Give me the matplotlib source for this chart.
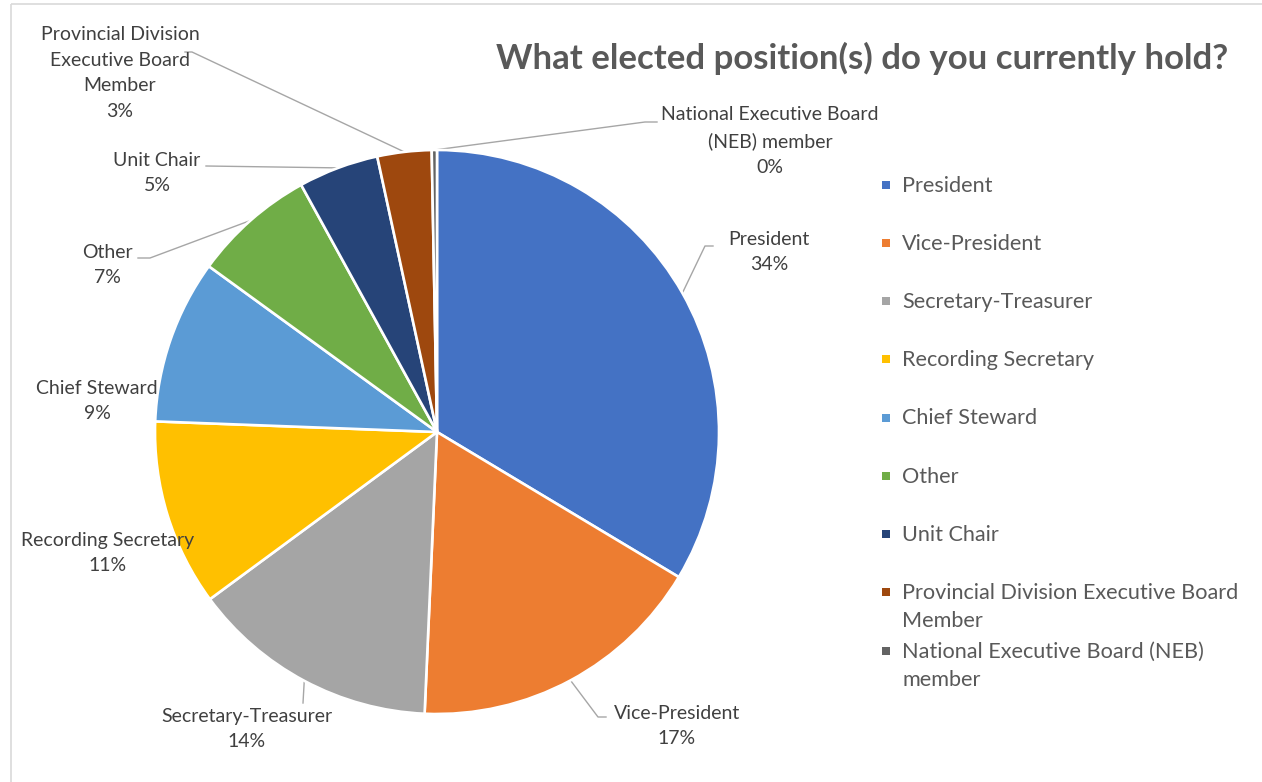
import matplotlib
matplotlib.use("Agg")
import matplotlib.pyplot as plt
from matplotlib.patches import Rectangle
import numpy as np

# --- data -------------------------------------------------------------
positions = [
    "President",
    "Vice-President",
    "Secretary-Treasurer",
    "Recording Secretary",
    "Chief Steward",
    "Other",
    "Unit Chair",
    "Provincial Division Executive Board Member",
    "National Executive Board (NEB) member",
]
shares = [33.6, 17.1, 14.2, 10.7, 9.4, 7.0, 4.6, 3.1, 0.3]

# wrapped text used for the slice labels and the legend
slice_label_text = [
    "President",
    "Vice-President",
    "Secretary-Treasurer",
    "Recording Secretary",
    "Chief Steward",
    "Other",
    "Unit Chair",
    "Provincial Division\nExecutive Board\nMember",
    "National Executive Board\n(NEB) member",
]
legend_text = [
    "President",
    "Vice-President",
    "Secretary-Treasurer",
    "Recording Secretary",
    "Chief Steward",
    "Other",
    "Unit Chair",
    "Provincial Division Executive Board\nMember",
    "National Executive Board (NEB)\nmember",
]
colors = ["#4472C4", "#ED7D31", "#A5A5A5", "#FFC000", "#5B9BD5",
          "#70AD47", "#264478", "#9E480E", "#636363"]

title = "What elected position(s) do you currently hold?"

# --- layout (pixel space, y measured from the top) ---------------------
W, H = 1262, 782
pie_center = (437, 432)
pie_radius = 282

# label centre and leader-line points (after the slice anchor)
label_xy = [
    (769, 252), (677, 726), (247, 729), (108, 553), (97, 401),
    (107, 265), (157, 173), (120, 73), (770, 141),
]
leaders = [
    [(705, 246), (713, 246)],
    [(598, 717), (606, 717)],
    [(303, 703)],
    None,
    None,
    [(150, 258), (138, 258)],
    [(206, 166)],
    [(192, 52), (185, 52)],
    [(645, 122), (657, 122)],
]

FONT = "Lato"
label_color = "#404040"
legend_color = "#595959"

fig = plt.figure(figsize=(W / 100, H / 100), dpi=100)
ax = fig.add_axes([0, 0, 1, 1])

wedges, _ = ax.pie(
    shares,
    colors=colors,
    center=pie_center,
    radius=pie_radius,
    startangle=-90,
    counterclock=True,
    wedgeprops=dict(edgecolor="white", linewidth=1.9),
)
ax.set_xlim(0, W)
ax.set_ylim(H, 0)
ax.set_aspect("equal")
ax.axis("off")

# chart border (light grey frame)
ax.plot([11, 11], [4, H], color="#D9D9D9", lw=1.2, solid_capstyle="butt")
ax.plot([11, W], [4, 4], color="#D9D9D9", lw=1.2, solid_capstyle="butt")

# slice labels with leader lines
for i, w in enumerate(wedges):
    pct = f"{shares[i]:.0f}%"
    x, y = label_xy[i]
    ax.text(x, y, f"{slice_label_text[i]}\n{pct}", ha="center", va="center",
            fontsize=14.0, family=FONT, color=label_color, linespacing=1.6)
    if leaders[i]:
        mid = np.deg2rad((w.theta1 + w.theta2) / 2)
        ax_pt = (pie_center[0] + pie_radius * np.cos(mid),
                 pie_center[1] + pie_radius * np.sin(mid))
        pts = [ax_pt] + leaders[i]
        ax.plot([p[0] for p in pts], [p[1] for p in pts],
                color="#A6A6A6", lw=1.0, zorder=0.5)

# title
ax.text(862, 58, title, ha="center", va="center", fontsize=25,
        fontweight="bold", family=FONT, color="#595959")

# legend
leg_y0, leg_step, line_step = 185.5, 58.25, 28
for i, txt in enumerate(legend_text):
    y = leg_y0 + i * leg_step
    ax.add_patch(Rectangle((882, y - 5), 8, 8, color=colors[i], lw=0))
    for j, line in enumerate(txt.split("\n")):
        ax.text(902, y + j * line_step, line, ha="left", va="center",
                fontsize=15.6, family=FONT, color=legend_color)

fig.savefig("out.png", dpi=100, facecolor="white")
